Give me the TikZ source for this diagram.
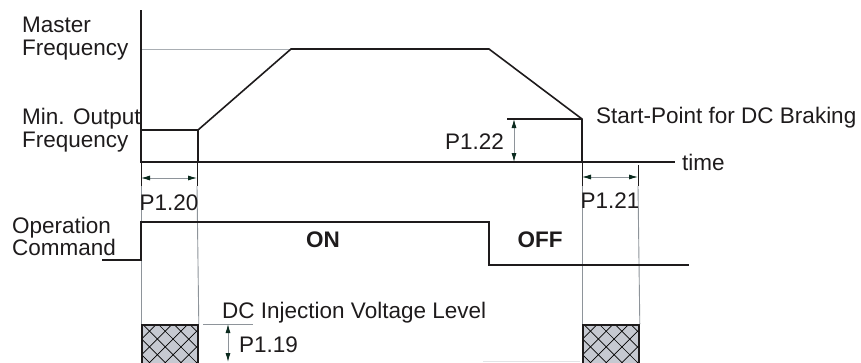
\documentclass[tikz,border=0pt]{standalone}
\usepackage{fontspec}
\setmainfont{Liberation Sans}
\usetikzlibrary{arrows.meta}
\definecolor{refgray}{HTML}{8E949A}
\definecolor{mfgray}{HTML}{A9AEB3}
\definecolor{headcol}{HTML}{0B2A1E}
\definecolor{boxfill}{HTML}{C6C9D1}
\definecolor{inkcol}{HTML}{1E1B1C}
\definecolor{faintgray}{HTML}{E2E4E6}
\tikzset{
  sig/.style={line width=1.6pt, inkcol},
  refline/.style={line width=0.9pt, refgray},
  dimarrow/.style={line width=0.8pt, refgray,
    {Latex[length=9pt,width=5pt,color=headcol]}-{Latex[length=9pt,width=5pt,color=headcol]}},
  lbl/.style={font=\fontsize{22.5}{22.5}\selectfont, inner sep=0pt, text=inkcol},
  blbl/.style={font=\fontsize{22.5}{22.5}\selectfont\bfseries, inner sep=0pt, text=inkcol},
  hatchline/.style={line width=0.7pt, black},
  hatchbox/.style={draw=inkcol, line width=1.8pt, fill=boxfill,
    minimum width=56pt, minimum height=44pt, inner sep=0pt, anchor=north west,
    path picture={
      \foreach \k in {-5,...,8} {
        \pgfmathsetmacro\hc{11+\k*15.7}
        \draw[hatchline, shift={(path picture bounding box.north west)}]
          (\hc pt-60pt,60pt) -- ++(120pt,-120pt);
        \draw[hatchline, shift={(path picture bounding box.north west)}]
          (\hc pt+60pt,60pt) -- ++(-120pt,-120pt);
      }
    }},
}
\begin{document}
\begin{tikzpicture}[x=1pt,y=-1pt]
\useasboundingbox (0,0) rectangle (861,362);
\clip (0,0) rectangle (861,362);

% key coordinates
\coordinate (ytop) at (141,10);
\coordinate (orig) at (141,162);
\coordinate (tend) at (675,162);
\coordinate (mfl) at (141,49);
\coordinate (rtop) at (291,49);
\coordinate (dstart) at (489,49);
\coordinate (brake) at (582,119);
\coordinate (brakebase) at (582,162);
\coordinate (minl) at (141,130);
\coordinate (minr) at (198,130);
\coordinate (minbase) at (198,162);
\coordinate (p22l) at (507,119);
\coordinate (p22t) at (514,119);
\coordinate (p22b) at (514,162);

% frequency graph
\draw[line width=0.9pt, mfgray] (mfl) -- (rtop);
\draw[sig] (ytop) -- (orig) -- (tend);
\draw[sig] (minl) -- (minr) -- (minbase);
\draw[sig] (minr) -- (rtop) -- (dstart) -- (brake) -- (brakebase);
\draw[sig, line width=1.2pt] (p22l) -- (brake);
\draw[dimarrow] (p22t) -- (p22b);

% labels of graph
\node[lbl, align=left, anchor=north west] (master) at (22,16.8) {Master\\[0.2pt]Frequency};
\node[lbl, align=left, anchor=north west] (minout) at (22,107.8) {Min. Output\\[0.5pt]Frequency};
\node[lbl, anchor=base west] (timelbl) at (682,170) {time};
\node[lbl, anchor=base west] (startpt) at (596,123) {Start-Point for DC Braking};
\node[lbl, anchor=base east] (p122) at (504,149) {P1.22};

% hatched boxes (DC injection)
\node[hatchbox] (box1) at (141,324) {};
\node[hatchbox] (box2) at (582,324) {};

% extension lines
\coordinate (e1) at (141,186);
\coordinate (e2) at (197,186);
\coordinate (e2t) at (197,162);
\coordinate (e3) at (582,186);
\coordinate (e4) at (638,186);
\coordinate (e4t) at (638,165);
\draw[sig, line width=1pt] (orig) -- (e1);
\draw[sig, line width=1pt] (e2t) -- (e2);
\draw[sig, line width=1pt] (brakebase) -- (e3);
\draw[sig, line width=1pt] (e4t) -- (e4);
\draw[refline] (e1) -- (box1.north west);
\draw[refline] (e2) -- (box1.north east);
\draw[refline] (e3) -- (box2.north west);
\draw[refline] (e4) -- (box2.north east);

% dimension arrows
\coordinate (d20a) at (141,178);
\coordinate (d20b) at (197,178);
\coordinate (d21a) at (582,177);
\coordinate (d21b) at (638,177);
\draw[dimarrow] (d20a) -- (d20b);
\draw[dimarrow] (d21a) -- (d21b);
\node[lbl, anchor=base] (p120) at (169,210) {P1.20};
\node[lbl, anchor=base] (p121) at (610,208) {P1.21};

% operation command
\coordinate (oc0) at (102,260);
\coordinate (oc1) at (141,260);
\coordinate (oc2) at (141,222);
\coordinate (oc3) at (489,222);
\coordinate (oc4) at (489,265);
\coordinate (oc5) at (689,265);
\draw[sig] (oc0) -- (oc1) -- (oc2) -- (oc3) -- (oc4) -- (oc5);
\node[lbl, align=left, anchor=north west] (opcmd) at (12,216.8) {Operation\\[-0.5pt]Command};
\node[blbl, anchor=base] (onlbl) at (323,247) {ON};
\node[blbl, anchor=base] (offlbl) at (540,247) {OFF};

% DC injection level
\node[lbl, anchor=base west] (dclbl) at (222,318) {DC Injection Voltage Level};
\coordinate (lv0) at (203,324);
\coordinate (lv1) at (253,324);
\coordinate (p19t) at (228,324);
\coordinate (p19b) at (228,362);
\draw[refline] (lv0) -- (lv1);
\draw[dimarrow] (p19t) -- (p19b);
\node[lbl, anchor=base west] (p119) at (239,352) {P1.19};

\coordinate (f0) at (483,361);
\coordinate (f1) at (580,361);
\draw[line width=0.8pt, faintgray] (f0) -- (f1);
\end{tikzpicture}
\end{document}
